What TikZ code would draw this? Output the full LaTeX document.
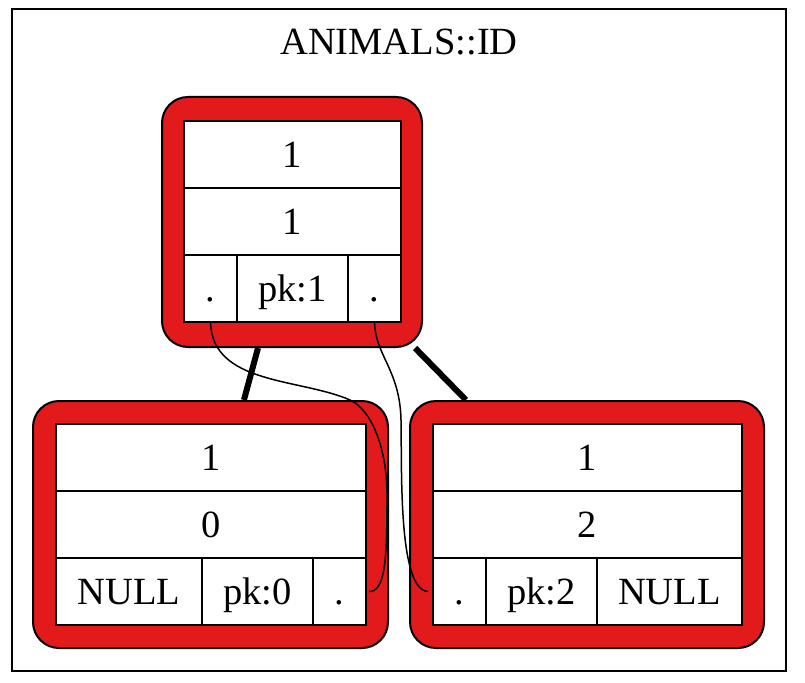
\documentclass[tikz,border=0pt]{standalone}
\usepackage{fontspec}
\setmainfont{Liberation Serif}
\definecolor{nodered}{RGB}{227,26,28}
\begin{document}
\begin{tikzpicture}[x=1pt,y=-1pt,
  every node/.style={font=\fontsize{38.5}{46}\selectfont},
  frame/.style={draw=black, line width=2pt},
  redbox/.style={draw=black, fill=nodered, line width=2pt, rounded corners=26pt, inner sep=0pt},
  cell/.style={draw=black, fill=white, line width=1.5pt, inner sep=0pt, outer sep=0pt,
               text height=25pt, text depth=0pt, minimum height=67pt},
  tableedge/.style={draw=black, line width=2.2pt},
  treeedge/.style={draw=black, line width=6pt},
  ptr/.style={draw=black, line width=1.5pt}]
\useasboundingbox (0,0) rectangle (805,682);
\node[frame, minimum width=774pt, minimum height=662pt, inner sep=0pt] (border) at (399,340) {};
\node[anchor=base] (title) at (399,55) {ANIMALS::ID};
% top node
\node[redbox, minimum width=260pt, minimum height=250pt] (top) at (292,222) {};
\node[cell, minimum width=217pt] (t1) at (292.5,154.5) {1};
\node[cell, minimum width=217pt] (t2) at (292.5,221.5) {1};
\node[cell, minimum width=53pt] (t3a) at (210.5,288.5) {.};
\node[cell, minimum width=111pt] (t3b) at (292.5,288.5) {pk:1};
\node[cell, minimum width=53pt] (t3c) at (374.5,288.5) {.};
\draw[tableedge] (t1.north west) rectangle (t3c.south east);
% left child
\node[redbox, minimum width=355pt, minimum height=247pt] (left) at (210.5,524.5) {};
\node[cell, minimum width=310pt] (l1) at (211,457.5) {1};
\node[cell, minimum width=310pt] (l2) at (211,524.5) {0};
\node[cell, minimum width=146pt] (l3a) at (129,591.5) {NULL};
\node[cell, minimum width=111pt] (l3b) at (257.5,591.5) {pk:0};
\node[cell, minimum width=53pt] (l3c) at (339.5,591.5) {.};
\draw[tableedge] (l1.north west) rectangle (l3c.south east);
% right child
\node[redbox, minimum width=354pt, minimum height=247pt] (right) at (587,524.5) {};
\node[cell, minimum width=309pt] (r1) at (587.5,457.5) {1};
\node[cell, minimum width=309pt] (r2) at (587.5,524.5) {2};
\node[cell, minimum width=53pt] (r3a) at (459.5,591.5) {.};
\node[cell, minimum width=111pt] (r3b) at (541.5,591.5) {pk:2};
\node[cell, minimum width=145pt] (r3c) at (669.5,591.5) {NULL};
\draw[tableedge] (r1.north west) rectangle (r3c.south east);
% tree edges
\draw[treeedge] (top) -- (left);
\draw[treeedge] (top) -- (right);
% pointer curves
\draw[ptr] (t3a.south) .. controls (212,385) and (300,378) .. (350,400)
  .. controls (372,410) and (388,450) .. (387,500)
  .. controls (387,560) and (385,592) .. ([xshift=3pt]l3c.east);
\coordinate (r3in) at ([xshift=-5pt]r3a.west);
\draw[ptr] (t3c.south) .. controls (375,355) and (400,370) .. (401,420)
  .. controls (402,470) and (398,590) .. (r3in);
\end{tikzpicture}
\end{document}
